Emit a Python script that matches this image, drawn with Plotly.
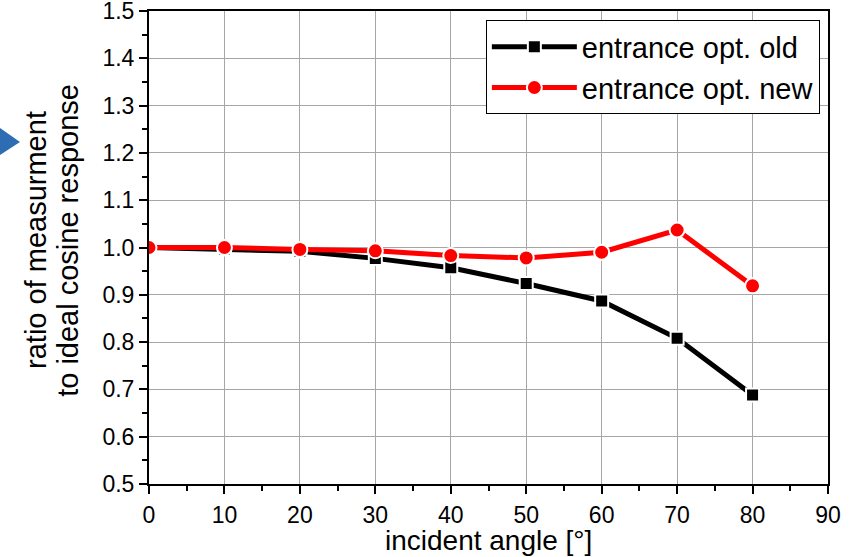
import plotly.graph_objects as go

angles = [0, 10, 20, 30, 40, 50, 60, 70, 80]
ratio_old = [1.000, 0.997, 0.992, 0.977, 0.957, 0.924, 0.887, 0.808, 0.688]
ratio_new = [1.000, 1.000, 0.996, 0.993, 0.983, 0.978, 0.990, 1.037, 0.919]
x_ticks = [0, 10, 20, 30, 40, 50, 60, 70, 80, 90]
y_ticks = [0.5, 0.6, 0.7, 0.8, 0.9, 1.0, 1.1, 1.2, 1.3, 1.4, 1.5]
x_title = "incident angle [°]"
y_title_lines = ["ratio of measurment", "to ideal cosine response"]

FONT = "Liberation Sans, Arial, sans-serif"

fig = go.Figure()
fig.add_trace(go.Scatter(
    x=angles, y=ratio_old, name="entrance opt. old", mode="lines+markers",
    line=dict(color="black", width=5),
    marker=dict(symbol="square", size=13, color="black",
                line=dict(color="white", width=2)),
))
fig.add_trace(go.Scatter(
    x=angles, y=ratio_new, name="entrance opt. new", mode="lines+markers",
    line=dict(color="#ff0000", width=5),
    marker=dict(symbol="circle", size=15, color="#ff0000",
                line=dict(color="white", width=2)),
))

axis_common = dict(
    showline=True, linecolor="black", linewidth=2, mirror=True,
    ticks="outside", ticklen=8, tickwidth=2, tickcolor="black",
    showgrid=True, gridcolor="#a6a6a6", gridwidth=1,
    tickfont=dict(family=FONT, size=23, color="black"),
    zeroline=False, automargin=False, ticklabeloverflow="allow",
)

fig.update_xaxes(
    range=[0, 90], tickvals=x_ticks, ticklabelstandoff=1,
    minor=dict(dtick=5, ticks="outside", ticklen=5, tickwidth=2, tickcolor="black", showgrid=False),
    **axis_common,
)
fig.update_yaxes(
    range=[0.5, 1.5], tickvals=y_ticks, tickformat=".1f",
    minor=dict(dtick=0.05, ticks="outside", ticklen=5, tickwidth=2, tickcolor="black", showgrid=False),
    **axis_common,
)

# x-axis title
fig.add_annotation(
    text=x_title, xref="paper", yref="paper", x=0.5, y=-0.1205,
    xanchor="center", yanchor="middle", showarrow=False,
    font=dict(family=FONT, size=28, color="black"),
)

# two-line y-axis title, drawn as rotated annotations
for xpos, line in zip([-0.1664, -0.1194], y_title_lines):
    fig.add_annotation(
        text=line, xref="paper", yref="paper", x=xpos, y=0.516,
        xanchor="center", yanchor="middle", textangle=-90, showarrow=False,
        font=dict(family=FONT, size=29, color="black"),
    )

# blue pointer at the left edge
fig.add_shape(type="path", xref="paper", yref="paper",
              path="M -0.2194 0.7526 L -0.19 0.723 L -0.2194 0.6956 Z",
              fillcolor="#2e6db4", line=dict(width=0))

fig.update_layout(
    width=855, height=557,
    margin=dict(l=149, r=27, t=11, b=73),
    paper_bgcolor="white", plot_bgcolor="white",
    showlegend=True,
    legend=dict(
        x=0.988, y=0.98, xanchor="right", yanchor="top",
        bgcolor="white", bordercolor="black", borderwidth=1,
        font=dict(family=FONT, size=29, color="black"),
        itemwidth=85, tracegroupgap=0,
    ),
)

fig.write_html("out.html")
